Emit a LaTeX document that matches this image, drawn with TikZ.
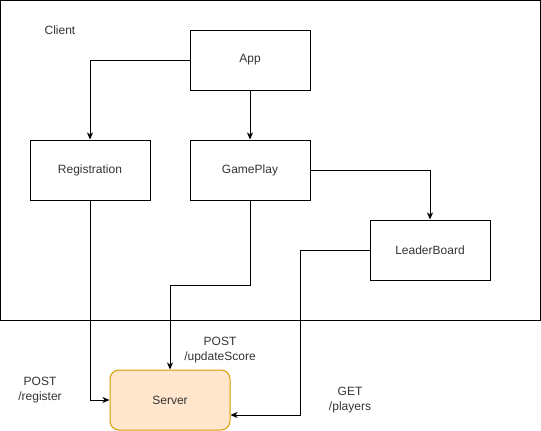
\documentclass[tikz,border=0pt]{standalone}
\usepackage{fontspec}
\setmainfont{Liberation Sans}
\usetikzlibrary{arrows.meta,calc}
\definecolor{srvfill}{HTML}{FFE6CC}
\definecolor{srvdraw}{HTML}{D79B00}
\definecolor{txt}{HTML}{333333}

\begin{document}
\begin{tikzpicture}[x=1pt, y=-1pt, line width=1pt,
    font=\fontsize{12}{15}\selectfont, text=txt,
    box/.style={draw, minimum width=120pt, minimum height=60pt, inner sep=0pt},
    srvbox/.style={box, draw=srvdraw, fill=srvfill, rounded corners=9pt},
    lbl/.style={align=center, inner sep=0pt},
    >={Stealth[length=7pt,width=6pt,inset=2pt]}]
    \useasboundingbox (0,0) rectangle (541,431);
    \draw (0.5,0.5) rectangle (540.5,320);
    \node[lbl] (client) at (60,30) {Client};

    \node[box] (app) at (250,60) {App};
    \node[box] (reg) at (90,170) {Registration};
    \node[box] (gameplay) at (250,170) {GamePlay};
    \node[box] (leader) at (430,250) {LeaderBoard};
    \node[srvbox] (server) at (170,400) {Server};

    \node[lbl] (upd) at (220,350) {POST\\/updateScore};
    \node[lbl] (regl) at (40,390) {POST\\/register};
    \node[lbl] (getl) at (350,400) {GET\\/players};

    \coordinate (gpturn) at (250,285);
    \coordinate (lbturn) at (300,250);

    \draw[->] (app.west) -| (reg.north);
    \draw[->] (app) -- (gameplay);
    \draw[->] (gameplay.east) -| (leader.north);
    \draw[->] (reg.south) |- (server.west);
    \draw[->] (gameplay.south) -- (gpturn) -| (server.north);
    \draw[->] (leader.west) -- (lbturn) |- ($(server.east)+(0,15)$);
\end{tikzpicture}
\end{document}
